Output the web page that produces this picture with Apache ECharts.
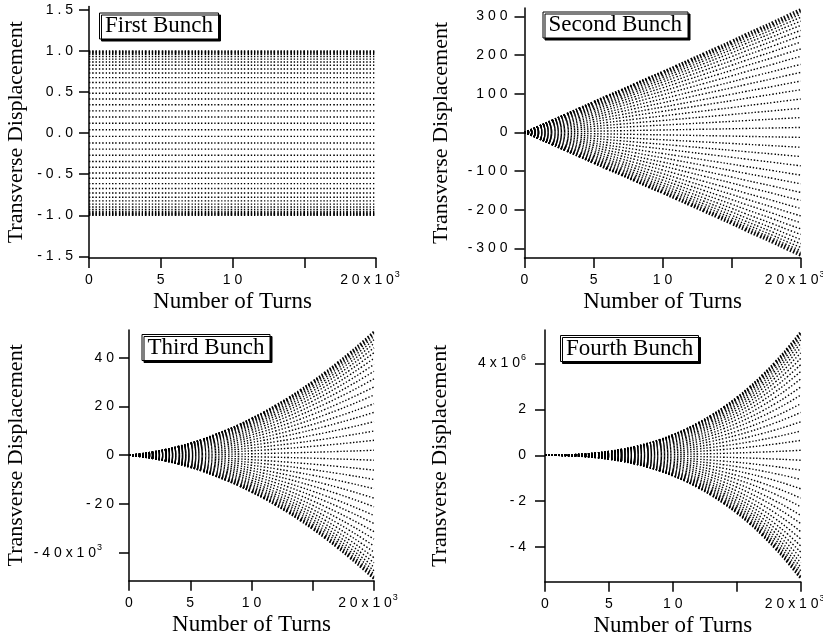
<!DOCTYPE html>
<html>
<head>
<meta charset="utf-8">
<script src="https://cdn.jsdelivr.net/npm/echarts@6/dist/echarts.min.js"></script>
<style>
  html, body { margin: 0; padding: 0; background: #fff; }
  #chart { width: 823px; height: 638px; }
</style>
</head>
<body>
<div id="chart"></div>
<script>
// Turn number (units of 10^3 turns) at which each envelope value is given
const turnsK = [0, 1, 2, 3, 4, 5, 6, 7, 8, 9, 10, 11, 12, 13, 14, 15, 16, 17, 18, 19, 20];

// Oscillation envelope of each bunch (same units as its y axis)
const envFirst  = [1, 1, 1, 1, 1, 1, 1, 1, 1, 1, 1, 1, 1, 1, 1, 1, 1, 1, 1, 1, 1];
const envSecond = [0, 16, 32, 48, 64, 80, 96, 111, 127, 143, 158, 174, 190, 206, 222, 238, 255, 271, 287, 304, 320];
const envThird  = [0, 0.6, 1.4, 2.4, 3.6, 5.0, 6.6, 8.5, 10.5, 12.7, 15.2, 17.8, 20.7, 23.7, 27.0, 30.5, 34.2, 38.1, 42.2, 46.5, 51.0];
const envFourth = [0, 0.005, 0.022, 0.053, 0.10, 0.17, 0.26, 0.375, 0.52, 0.69, 0.90, 1.14, 1.43, 1.75, 2.12, 2.53, 2.99, 3.51, 4.08, 4.71, 5.40];

// Relative displacement levels of the turn-by-turn samples (fraction of envelope)
const phaseLevels = [1.00, 0.99, 0.98, 0.97, 0.955, 0.93, 0.90, 0.865, 0.825, 0.78, 0.73, 0.675, 0.615, 0.55,
                     0.485, 0.415, 0.345, 0.27, 0.195, 0.12, 0.04, -0.04, -0.12, -0.195, -0.27, -0.345, -0.415,
                     -0.485, -0.55, -0.615, -0.675, -0.73, -0.78, -0.825, -0.865, -0.90, -0.93, -0.955, -0.97,
                     -0.98, -0.99, -1.00];

// Panel titles
const bunchNames = ['First Bunch', 'Second Bunch', 'Third Bunch', 'Fourth Bunch'];

// Tick values and their printed labels ("^" marks an exponent)
const xTicks = [0, 5, 10, 15, 20];
const xLabelTicks = [0, 5, 10, 20];
const xLabels = ['0', '5', '1 0', '2 0 x 1 0^3'];

const yTicksFirst  = [-1.5, -1.0, -0.5, 0, 0.5, 1.0, 1.5];
const yLabelsFirst = ['- 1 . 5', '- 1 . 0', '- 0 . 5', '0 . 0', '0 . 5', '1 . 0', '1 . 5'];
const yTicksSecond  = [-300, -200, -100, 0, 100, 200, 300];
const yLabelsSecond = ['- 3 0 0', '- 2 0 0', '- 1 0 0', '0', '1 0 0', '2 0 0', '3 0 0'];
const yTicksThird  = [-40, -20, 0, 20, 40];
const yLabelsThird = ['- 4 0 x 1 0^3', '- 2 0', '0', '2 0', '4 0'];
const yTicksFourth  = [-4, -2, 0, 2, 4];
const yLabelsFourth = ['- 4', '- 2', '0', '2', '4 x 1 0^6'];

const SERIF = 'Liberation Serif';
const SANS = 'Liberation Sans';

const panels = [
  { grid: { left: 89,    top: 6.5, width: 287,   height: 251.5 }, yMin: -1.52, yMax: 1.54, env: envFirst,
    yTicks: yTicksFirst,  yLabels: yLabelsFirst,  yMargin: 16, yNameGap: 62,  supPad: 0,  box: [99, 12.5] },
  { grid: { left: 524.5, top: 8,   width: 276.2, height: 250   }, yMin: -325, yMax: 322,   env: envSecond,
    yTicks: yTicksSecond, yLabels: yLabelsSecond, yMargin: 17, yNameGap: 72,  supPad: 0,  box: [542.5, 11.5] },
  { grid: { left: 129,   top: 330, width: 245,   height: 250.7 }, yMin: -51.5, yMax: 51.4, env: envThird,
    yTicks: yTicksThird,  yLabels: yLabelsThird,  yMargin: 15, yNameGap: 102, supPad: 12, box: [141.5, 334] },
  { grid: { left: 545,   top: 330, width: 255.7, height: 251.7 }, yMin: -5.5, yMax: 5.45,  env: envFourth,
    yTicks: yTicksFourth, yLabels: yLabelsFourth, yMargin: 19, yNameGap: 94,  supPad: 0,  box: [560, 335] }
];

const axisLineStyle = { color: '#000', width: 1.5 };

// Rich styles: base digits sit low in the line, the exponent rides at its top
function labelRich(supRight) {
  return {
    b:   { fontFamily: SANS, fontSize: 14, color: '#000', lineHeight: 14, padding: [3, 0, 3, 0] },
    sup: { fontFamily: SANS, fontSize: 9, color: '#000', lineHeight: 9, padding: [0, supRight, 11, 1] }
  };
}
function richText(s) {
  const parts = s.split('^');
  return '{b|' + parts[0] + '}' + (parts.length > 1 ? '{sup|' + parts[1] + '}' : '');
}

const option = {
  backgroundColor: '#fff',
  animation: false,
  title: panels.map((p, i) => ({
    text: bunchNames[i],
    left: p.box[0], top: p.box[1],
    padding: [1, 6, 1, 6],
    borderColor: '#000', borderWidth: 1,
    backgroundColor: '#fff',
    shadowColor: '#000', shadowOffsetX: 2, shadowOffsetY: 2, shadowBlur: 0,
    textStyle: { fontFamily: SERIF, fontSize: 23, fontWeight: 'normal', color: '#000', lineHeight: 25 }
  })),
  grid: panels.map(p => Object.assign({ outerBoundsMode: 'none', containLabel: false }, p.grid)),
  xAxis: panels.map((p, i) => ({
    type: 'value', gridIndex: i, min: 0, max: 20,
    name: 'Number of Turns', nameLocation: 'middle', nameGap: 29,
    nameTextStyle: { fontFamily: SERIF, fontSize: 23, color: '#000' },
    axisLine: { show: true, onZero: false, lineStyle: axisLineStyle },
    axisTick: { show: true, length: 10, lineStyle: axisLineStyle, customValues: xTicks },
    axisLabel: {
      margin: 15, color: '#000',
      customValues: xLabelTicks,
      formatter: v => richText(xLabels[xLabelTicks.indexOf(v)]),
      rich: labelRich(12)
    },
    splitLine: { show: false }
  })),
  yAxis: panels.map((p, i) => ({
    type: 'value', gridIndex: i, min: p.yMin, max: p.yMax,
    name: 'Transverse Displacement', nameLocation: 'middle', nameGap: p.yNameGap,
    nameTextStyle: { fontFamily: SERIF, fontSize: 22, color: '#000' },
    axisLine: { show: true, onZero: false, lineStyle: axisLineStyle },
    axisTick: { show: true, length: 10, lineStyle: axisLineStyle, customValues: p.yTicks },
    axisLabel: {
      margin: p.yMargin, color: '#000',
      customValues: p.yTicks,
      formatter: v => richText(p.yLabels[p.yTicks.indexOf(v)]),
      rich: labelRich(p.supPad)
    },
    splitLine: { show: false }
  })),
  series: []
};

// Each sample level traces a dotted curve that follows the bunch envelope
panels.forEach((p, g) => {
  phaseLevels.forEach(level => {
    option.series.push({
      type: 'line', xAxisIndex: g, yAxisIndex: g,
      data: turnsK.map((t, k) => [t, p.env[k] * level]),
      showSymbol: false, smooth: true, silent: true,
      lineStyle: { color: '#000', width: 1.4, type: [1.4, 1.9] }
    });
  });
});

const chart = echarts.init(document.getElementById('chart'), null, { renderer: 'canvas' });
chart.setOption(option);
</script>
</body>
</html>
